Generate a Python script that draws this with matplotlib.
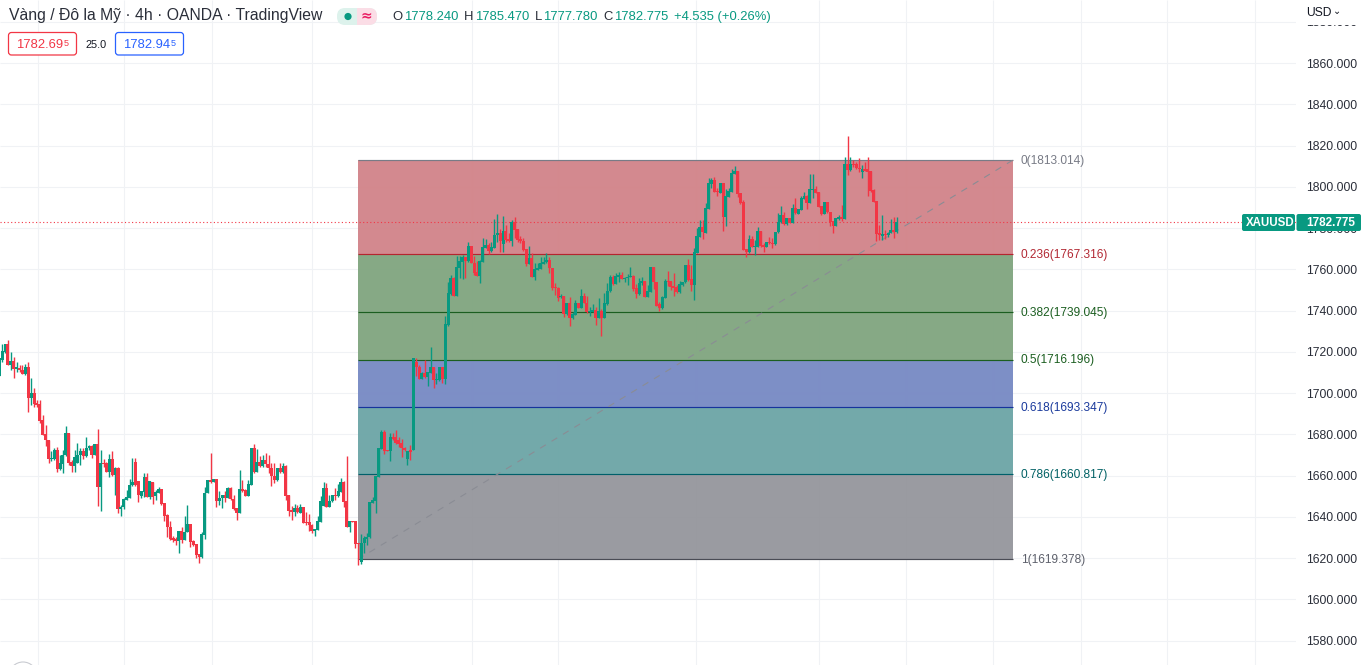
import matplotlib
matplotlib.use("Agg")
import matplotlib.pyplot as plt
from matplotlib.patches import Rectangle, FancyBboxPatch, Ellipse

# ---------- data: XAUUSD 4h candles ----------
direction = (
    "UUUDUDUDDU" "DUDDDDDDUU" "DUUUDDUUUD" "UUDUDUDDUD" "UDUUUUUDDU" "UDUDUUDDDD" "DDUDUUDDDD"
    "UUU" "DUDUUDUDDD" "UDDUUDUDUD" "DDDUDUDDDU" "DUDDDDUUUU" "DUUDUUDDUD" "DDUUUUUUUU" "DDUDDDDDUD"
    "U" "DDUDUUDUUD" "UUUDUUUDUD" "DDUUUDUUUD" "UDDUDDDDDU" "DUUUUUDDDD" "UDUDUUDUDD" "UUDUDUUUDU"
    "UDUUUDDUUD" "UUDDDUUDDD" "DUUUDDUUUD" "UUUDDUDUUU" "UDDDDUDUUD" "DUDDUUUDUD" "UDUUUDUUDD"
    "DUDDDUUDUD" "UDDDUDDDDD" "DUDUUDU"
)
body_high = [
    1716.8,1720.3,1723.7,1723.7,1715.5,1715.5,1712.4,1712.2,1711.1,1712.4,
    1712.4,1699.8,1699.8,1695.3,1694.6,1686.9,1679.9,1677.0,1668.4,1672.3,
    1672.3,1665.9,1669.7,1680.6,1680.6,1666.5,1668.9,1669.9,1671.8,1671.8,
    1673.3,1674.3,1674.3,1675.1,1675.1,1665.9,1666.2,1666.2,1667.8,1667.8,
    1663.6,1663.6,1644.7,1648.7,1649.4,1655.4,1657.0,1666.5,1657.3,1652.4,
    1659.2,1659.2,1657.1,1656.8,1652.0,1653.6,1653.4,1646.6,1640.8,1635.0,
    1629.5,1629.3,1633.1,1633.1,1632.7,1636.4,1636.4,1628.4,1626.8,1621.7,
    1631.6,1651.5,1657.8,1657.8,1658.3,1658.3,1648.9,1650.4,1650.4,1654.1,
    1654.1,1648.6,1644.1,1653.3,1653.3,1653.0,1655.9,1673.5,1673.5,1666.7,
    1666.7,1667.5,1667.5,1665.4,1663.8,1660.0,1663.6,1663.6,1664.6,1664.6,
    1650.5,1643.1,1644.2,1644.2,1644.7,1644.7,1637.5,1637.3,1636.2,1634.2,
    1638.0,1647.6,1653.8,1653.8,1647.6,1650.4,1650.4,1652.5,1657.0,1657.0,
    1647.6,1638.0,1638.0,1638.0,1627.1,1627.3,1629.7,1630.4,1647.0,1648.1,
    1659.8,1673.3,1681.1,1681.1,1672.4,1678.5,1678.5,1678.5,1677.2,1675.6,
    1673.5,1672.0,1672.4,1716.8,1714.9,1712.5,1709.7,1709.7,1710.0,1712.5,
    1712.5,1706.7,1712.5,1712.5,1733.3,1748.4,1755.8,1755.8,1761.0,1763.9,
    1766.0,1766.0,1771.3,1771.3,1762.9,1758.7,1764.0,1770.8,1771.8,1771.8,
    1771.0,1776.6,1777.8,1777.8,1778.6,1778.6,1774.5,1782.8,1782.8,1779.5,
    1774.5,1773.7,1769.7,1765.5,1765.5,1760.1,1760.5,1762.9,1763.7,1764.5,
    1764.5,1760.6,1751.3,1750.9,1747.1,1747.1,1743.8,1743.8,1738.5,1743.8,
    1743.8,1747.1,1747.1,1743.7,1739.8,1740.1,1740.3,1739.8,1739.8,1743.8,
    1749.5,1756.1,1756.1,1756.8,1757.2,1757.2,1756.0,1756.4,1756.9,1756.9,
    1750.9,1753.5,1754.2,1754.2,1749.5,1761.3,1761.3,1753.9,1743.2,1746.6,
    1754.3,1754.5,1754.3,1751.9,1751.3,1752.7,1754.0,1761.9,1761.9,1755.3,
    1768.4,1776.2,1780.5,1780.5,1789.6,1801.7,1803.3,1803.3,1798.1,1801.7,
    1801.7,1795.5,1798.0,1806.5,1807.7,1807.7,1797.2,1792.6,1769.9,1774.7,
    1774.7,1771.4,1778.4,1778.4,1771.7,1773.4,1773.4,1772.9,1778.2,1783.1,
    1786.3,1786.3,1784.7,1784.7,1789.5,1789.5,1789.2,1794.4,1795.5,1795.5,
    1798.7,1799.1,1798.9,1797.4,1790.7,1792.6,1792.6,1787.7,1783.4,1784.7,
    1785.2,1785.2,1811.0,1811.0,1811.0,1811.0,1811.0,1809.2,1808.6,1808.4,
    1808.4,1807.8,1798.4,1793.1,1777.4,1777.1,1776.9,1777.7,1779.0,1779.0,1782.775,
]
body_low = [
    1708.4,1716.0,1720.0,1713.7,1713.7,1711.8,1711.8,1711.1,1709.2,1709.2,
    1697.7,1697.7,1694.9,1694.3,1686.4,1679.8,1677.0,1668.1,1667.8,1667.8,
    1663.3,1663.3,1665.5,1669.7,1666.2,1664.6,1664.6,1666.2,1669.7,1669.4,
    1669.4,1673.1,1670.1,1670.1,1654.5,1654.5,1665.5,1661.8,1661.8,1660.4,
    1660.4,1643.6,1643.6,1644.5,1648.1,1649.2,1655.2,1655.2,1650.7,1650.3,
    1652.1,1649.7,1649.7,1649.7,1650.2,1651.6,1646.0,1640.5,1634.8,1629.2,
    1628.7,1628.4,1628.4,1628.7,1628.7,1632.4,1627.9,1626.3,1621.4,1620.6,
    1620.6,1631.3,1651.3,1656.7,1657.0,1647.6,1647.6,1648.9,1649.1,1649.1,
    1648.5,1643.8,1642.0,1642.0,1652.5,1650.2,1650.2,1655.6,1661.9,1661.9,
    1664.8,1664.8,1665.4,1663.5,1659.8,1657.8,1657.8,1661.7,1661.7,1650.2,
    1642.8,1642.5,1642.3,1642.2,1642.0,1637.1,1637.0,1636.0,1633.1,1633.1,
    1633.7,1637.6,1645.2,1644.9,1644.9,1647.5,1650.1,1650.1,1652.2,1647.3,
    1635.2,1635.2,1637.6,1626.8,1626.8,1618.1,1627.1,1629.4,1630.0,1646.8,
    1647.8,1659.4,1673.0,1672.0,1672.0,1672.0,1677.5,1675.6,1675.3,1673.2,
    1672.4,1667.8,1671.6,1672.4,1712.5,1707.0,1707.0,1707.6,1708.0,1709.9,
    1706.3,1706.3,1706.3,1707.0,1706.8,1732.8,1747.9,1747.1,1747.1,1760.6,
    1763.5,1764.0,1763.9,1762.9,1758.2,1756.9,1756.9,1763.5,1770.5,1768.9,
    1768.9,1770.5,1776.5,1773.7,1772.4,1774.2,1773.9,1773.9,1779.1,1774.2,
    1773.7,1769.4,1762.6,1762.6,1756.3,1756.4,1759.7,1760.1,1762.7,1763.5,
    1760.5,1751.1,1750.8,1746.3,1746.4,1738.3,1738.3,1736.6,1736.6,1738.0,
    1741.4,1741.4,1743.8,1739.3,1739.3,1739.5,1736.6,1736.6,1736.6,1736.6,
    1743.0,1749.3,1752.9,1752.9,1756.4,1755.3,1755.5,1755.6,1756.3,1750.3,
    1748.0,1748.0,1753.2,1746.6,1746.6,1749.0,1753.7,1742.4,1741.4,1741.4,
    1746.3,1754.0,1751.6,1750.8,1748.8,1748.8,1752.2,1753.7,1754.8,1752.4,
    1752.4,1768.1,1775.8,1777.9,1777.8,1789.2,1801.4,1797.6,1797.3,1797.2,
    1785.5,1785.2,1795.2,1797.6,1806.2,1796.7,1792.3,1769.4,1768.4,1768.4,
    1770.9,1770.9,1770.9,1771.3,1770.9,1770.9,1772.6,1772.2,1772.2,1777.9,
    1782.7,1781.8,1781.8,1782.6,1782.6,1787.1,1786.8,1788.7,1794.0,1791.9,
    1791.9,1798.4,1797.1,1790.3,1786.8,1786.8,1787.6,1783.1,1781.1,1781.1,
    1784.2,1784.5,1784.5,1808.1,1808.1,1810.5,1808.9,1808.4,1807.3,1807.8,
    1807.3,1797.9,1792.8,1777.1,1776.4,1776.3,1776.4,1776.6,1777.4,1777.9,1778.24,
]
wick_high = [
    1716.8,1723.7,1724.0,1725.6,1719.7,1717.6,1714.8,1713.5,1713.5,1714.3,
    1714.8,1707.1,1702.2,1696.6,1696.6,1689.3,1684.4,1677.0,1672.0,1673.5,
    1673.6,1669.7,1672.3,1684.0,1680.6,1667.5,1672.3,1675.9,1673.1,1673.1,
    1678.5,1674.7,1674.7,1675.1,1682.5,1672.6,1667.8,1666.7,1670.4,1671.8,
    1663.9,1663.9,1645.7,1649.2,1652.9,1658.1,1668.4,1668.4,1657.3,1652.4,
    1661.0,1661.0,1657.5,1657.0,1652.9,1654.2,1653.6,1646.6,1641.1,1638.1,
    1630.6,1630.0,1633.1,1634.8,1640.3,1645.7,1636.4,1628.7,1626.8,1621.9,
    1632.7,1654.5,1657.8,1671.1,1658.3,1658.3,1652.7,1650.4,1652.5,1654.6,
    1654.6,1650.5,1644.1,1662.7,1657.8,1653.3,1657.8,1673.5,1675.3,1672.8,
    1669.5,1670.0,1670.7,1670.0,1666.2,1665.9,1663.6,1666.2,1666.2,1665.1,
    1650.5,1645.2,1646.2,1645.7,1646.2,1644.7,1642.5,1641.3,1636.3,1634.2,
    1640.5,1650.1,1657.0,1656.2,1650.5,1650.4,1654.1,1655.7,1659.0,1657.5,
    1669.5,1638.0,1638.0,1638.1,1627.1,1631.5,1630.7,1632.0,1647.3,1649.7,
    1659.8,1673.3,1682.1,1682.1,1672.4,1680.4,1680.4,1682.1,1678.5,1677.5,
    1674.0,1672.0,1674.8,1717.0,1716.8,1713.6,1710.0,1716.0,1710.0,1722.3,
    1712.8,1709.6,1712.5,1712.8,1737.5,1753.7,1757.2,1756.1,1766.4,1766.4,
    1766.9,1766.1,1773.2,1771.3,1766.4,1764.0,1764.5,1775.3,1774.7,1772.9,
    1773.4,1784.2,1786.8,1779.4,1785.8,1781.5,1777.4,1783.9,1785.5,1779.5,
    1776.1,1775.3,1769.7,1771.3,1767.7,1762.9,1762.9,1766.1,1766.1,1767.7,
    1765.8,1760.8,1753.2,1751.3,1747.9,1747.1,1743.8,1746.4,1739.5,1745.1,
    1743.8,1750.3,1748.7,1747.1,1741.9,1743.2,1741.6,1745.9,1740.6,1748.4,
    1753.2,1757.2,1757.2,1758.4,1758.9,1758.9,1756.4,1757.7,1761.3,1757.2,
    1752.9,1755.8,1756.4,1754.2,1752.4,1761.3,1761.3,1753.9,1744.3,1747.1,
    1755.1,1759.2,1754.3,1758.4,1752.4,1754.5,1754.0,1761.9,1765.0,1761.9,
    1770.5,1780.2,1783.9,1783.9,1792.3,1804.1,1804.1,1804.6,1799.6,1802.0,
    1802.0,1798.8,1799.3,1808.5,1810.1,1807.7,1797.2,1793.6,1769.9,1776.6,
    1776.1,1774.2,1780.7,1778.7,1772.6,1773.4,1775.8,1775.0,1778.2,1787.4,
    1790.7,1787.9,1784.7,1785.0,1791.6,1794.7,1789.2,1795.7,1797.6,1795.8,
    1806.2,1806.2,1800.4,1797.4,1790.7,1792.6,1792.6,1787.9,1783.4,1785.0,
    1786.3,1791.1,1814.2,1824.6,1814.2,1813.0,1812.1,1813.8,1810.5,1812.1,
    1814.2,1807.8,1798.7,1793.1,1781.4,1786.3,1779.0,1778.2,1784.4,1785.2,1785.47,
]
wick_low = [
    1708.4,1715.1,1719.5,1713.5,1711.1,1707.4,1710.3,1710.3,1709.2,1708.7,
    1690.9,1694.1,1693.3,1693.3,1685.6,1679.6,1674.4,1666.2,1667.2,1667.5,
    1661.8,1662.6,1661.3,1669.4,1665.1,1661.8,1661.8,1666.2,1665.1,1667.8,
    1669.1,1672.6,1668.3,1669.7,1645.3,1642.9,1664.2,1661.5,1659.4,1659.9,
    1650.7,1642.0,1640.5,1644.0,1648.1,1648.9,1654.9,1654.9,1647.3,1649.2,
    1649.7,1649.7,1648.6,1646.3,1648.1,1651.3,1645.7,1638.1,1630.0,1628.7,
    1628.0,1626.3,1622.5,1627.4,1628.7,1632.4,1625.1,1625.8,1619.8,1617.7,
    1619.8,1629.2,1651.3,1656.5,1657.0,1644.9,1645.7,1644.4,1647.3,1648.9,
    1648.1,1643.3,1638.4,1642.0,1652.2,1650.2,1650.1,1655.4,1661.1,1661.5,
    1664.3,1664.3,1664.3,1661.1,1654.9,1656.2,1657.5,1661.4,1661.4,1648.1,
    1640.4,1638.4,1640.5,1641.7,1641.7,1636.8,1636.0,1633.3,1632.0,1630.7,
    1633.6,1637.5,1645.2,1644.6,1644.9,1647.3,1648.1,1649.7,1651.8,1644.9,
    1635.2,1632.5,1637.6,1624.7,1616.8,1617.1,1622.3,1626.3,1629.5,1646.5,
    1642.0,1659.4,1672.8,1670.4,1672.0,1667.2,1677.2,1675.3,1673.7,1669.1,
    1672.0,1665.1,1667.5,1672.4,1708.4,1706.8,1706.7,1707.1,1703.6,1709.6,
    1702.6,1704.2,1705.9,1705.0,1704.4,1732.5,1747.5,1747.1,1747.1,1755.6,
    1755.5,1755.9,1763.7,1762.9,1757.2,1756.8,1753.5,1763.4,1770.5,1767.3,
    1768.5,1770.5,1773.4,1768.5,1768.5,1773.4,1773.4,1771.5,1775.3,1773.1,
    1772.6,1769.0,1761.8,1762.6,1756.3,1754.8,1759.7,1760.0,1762.4,1763.2,
    1758.4,1750.0,1747.5,1744.6,1745.9,1737.0,1737.8,1732.7,1735.7,1737.8,
    1741.1,1741.1,1743.5,1739.0,1737.5,1739.1,1733.0,1736.2,1727.8,1736.2,
    1742.7,1749.0,1752.6,1752.9,1754.0,1755.1,1754.0,1752.4,1756.1,1749.5,
    1746.3,1747.7,1752.4,1746.4,1746.4,1748.8,1750.5,1742.4,1739.8,1740.8,
    1746.1,1751.9,1750.0,1747.2,1748.4,1748.7,1751.9,1753.5,1754.3,1749.5,
    1745.1,1767.8,1775.5,1774.7,1777.4,1789.2,1799.3,1797.3,1795.7,1796.8,
    1778.6,1781.2,1794.9,1797.5,1806.2,1795.2,1791.5,1769.4,1766.1,1768.1,
    1770.6,1766.9,1770.7,1770.9,1768.5,1770.6,1772.2,1770.1,1771.7,1777.7,
    1782.3,1781.4,1781.4,1782.3,1782.3,1786.8,1786.6,1788.7,1793.9,1789.2,
    1791.9,1794.4,1796.8,1790.0,1786.5,1786.6,1787.1,1781.0,1777.7,1780.8,
    1783.9,1783.5,1784.2,1805.8,1807.8,1809.4,1808.4,1807.0,1804.1,1807.5,
    1795.7,1797.6,1792.4,1773.7,1774.2,1774.2,1774.7,1775.5,1777.4,1775.0,1777.78,
]
price_ticks = [1580, 1600, 1620, 1640, 1660, 1680, 1700, 1720, 1740, 1760, 1780,
               1800, 1820, 1840, 1860, 1880]
time_grid_bars = [13.4, 43.2, 73.5, 108.0, 163.3, 193.0, 240.7, 283.3, 313.3,
                  343.3, 373.5, 403.5, 433.6]
last_price = 1782.775
fib_ratios = [0, 0.236, 0.382, 0.5, 0.618, 0.786, 1]
fib_prices = [1813.014, 1767.316, 1739.045, 1716.196, 1693.347, 1660.817, 1619.378]
fib_line_colors = ['#787B86', '#B5242F', '#1B5E20', '#1B5E20', '#16339C', '#00606A', '#4A4C55']
fib_text_colors = ['#787B86', '#B22833', '#1B5E20', '#1B5E20', '#1A3A9C', '#006064', '#5D606B']
fib_fill_colors = ['#D2848A', '#81A680', '#81A680', '#788AC4', '#6DA6A7', '#96979D']
fib_bar_start, fib_bar_end = 123.9, 350.2

GREEN, RED = '#089981', '#F23645'
W, H = 1366, 665
PAD_W = 1296
plt.rcParams['font.family'] = ['Liberation Sans', 'DejaVu Sans']

fig = plt.figure(figsize=(W / 100, H / 100), dpi=100, facecolor='white')
ax = fig.add_axes([0, 0, PAD_W / W, 1])
# bar spacing 2.895 px, first bar at -0.7 px
ax.set_xlim(0.7 / 2.895, (PAD_W + 0.7) / 2.895)
ax.set_ylim(1860 - (H - 63) / 2.0625, 1860 + 63 / 2.0625)
for s in ax.spines.values():
    s.set_visible(False)
ax.yaxis.tick_right()
ax.set_yticks(price_ticks)
ax.set_yticklabels([f'{p}.000' for p in price_ticks], fontsize=8.7, color='#2A2E39')
ax.tick_params(axis='y', length=0, pad=7)
ax.set_xticks([])
ax.hlines(price_ticks, *ax.get_xlim(), color='#F0F2F5', lw=0.8, zorder=0)
ax.vlines(time_grid_bars, *ax.get_ylim(), color='#F0F2F5', lw=0.8, zorder=0)

# Fibonacci retracement
for i, c in enumerate(fib_fill_colors):
    ax.add_patch(Rectangle((fib_bar_start, fib_prices[i + 1]), fib_bar_end - fib_bar_start,
                           fib_prices[i] - fib_prices[i + 1], fc=c, ec='none', alpha=0.96, zorder=1))
ax.hlines(fib_prices, fib_bar_start, fib_bar_end, colors=fib_line_colors, lw=0.85, zorder=2)
ax.plot([fib_bar_start, fib_bar_end], [fib_prices[-1], fib_prices[0]], color='#8A8C94',
        lw=0.8, ls=(0, (6, 6)), zorder=2)
for r, p, c in zip(fib_ratios, fib_prices, fib_text_colors):
    ax.text(fib_bar_end + 2.6, p - 0.4, f'{r}({p:.3f})', color=c, fontsize=8.55, va='center', ha='left')

# Last price line
ax.plot(ax.get_xlim(), [last_price, last_price], color=RED, lw=0.8, ls=(0, (1, 2.2)), zorder=2)

# Candles
xs = list(range(len(direction)))
colors = [GREEN if d == 'U' else RED for d in direction]
ax.vlines(xs, wick_low, wick_high, colors=colors, lw=1.0, zorder=3)
ax.bar(xs, [h - l for h, l in zip(body_high, body_low)], bottom=body_low, width=1.04,
       color=colors, linewidth=0, zorder=4)


def px(x, y):
    return x / W, 1 - y / H


def label(x, y, s, color='#131722', size=10, **kw):
    fig.text(*px(x, y), s, color=color, fontsize=size, va='center', ha=kw.pop('ha', 'left'), zorder=7, **kw)


def box(x0, y0, x1, y1, fc, ec='none', lw=0.0, round_=0.0):
    fig.add_artist(FancyBboxPatch(px(x0, y1), (x1 - x0) / W, (y1 - y0) / H,
                                  boxstyle='square,pad=0' if not round_ else f'round,pad=0,rounding_size={round_ / W}',
                                  fc=fc, ec=ec, lw=lw, transform=fig.transFigure, zorder=6,
                                  mutation_aspect=W / H))


def dot(x, y, r, **kw):
    fig.add_artist(Ellipse(px(x, y), 2 * r / W, 2 * r / H, transform=fig.transFigure, **kw))


# Header of the price scale
fig.add_artist(Rectangle(px(1297, 24.5), 69 / W, 24.5 / H, fc='white', ec='none',
                         transform=fig.transFigure, zorder=5))
label(1306, 12.5, 'USD', size=8.7, color='#131722')
label(1333, 11, '⌄', size=7, color='#131722', family=['DejaVu Sans'])

# Legend
label(9, 15.5, 'Vàng / Đô la Mỹ · 4h · OANDA · TradingView', size=11.3, color='#2A2E39')
box(337, 8, 377, 25, '#DDF2EC', round_=8)
box(357, 8, 377, 25, '#FBDDE6', round_=8)
box(357, 8, 363, 25, '#FBDDE6')
dot(348, 16.5, 3.6, fc='#089981', ec='none', zorder=7)
label(361, 15.5, '≈', size=10, color='#E91E63', family=['DejaVu Sans'], fontweight='bold')
for x, s in [(392, 'O'), (464, 'H'), (535, 'L'), (603, 'C')]:
    label(x, 17, s, size=9.4, color='#2A2E39')
for x, s in [(404, '1778.240'), (475, '1785.470'), (543, '1777.780'), (614, '1782.775'),
             (674, '+4.535 (+0.26%)')]:
    label(x, 17, s, size=9.4, color='#089981')

# Bid / ask boxes
box(8.5, 32.5, 76.5, 55, 'white', ec='#F23645', lw=0.9, round_=3)
box(115.5, 32.5, 183.5, 55, 'white', ec='#2962FF', lw=0.9, round_=3)
label(16, 44.5, '1782.69', size=9.4, color='#F23645')
label(63.5, 43, '5', size=6.5, color='#F23645')
label(85, 44.5, '25.0', size=7.8, color='#131722')
label(123, 44.5, '1782.94', size=9.4, color='#2962FF')
label(170.5, 43, '5', size=6.5, color='#2962FF')

# Symbol and price badges
box(1242, 214, 1295, 231, GREEN, round_=2)
box(1296.5, 214, 1361, 231, GREEN, round_=2)
label(1246, 223, 'XAUUSD', size=8.3, color='white', fontweight='bold')
label(1306, 223, '1782.775', size=8.5, color='white', fontweight='bold')

# Logo edge at the bottom
dot(23, 676, 14, fc='white', ec='#C9CBD1', lw=0.8, zorder=6)

fig.savefig('out.png', dpi=100, facecolor='white')
